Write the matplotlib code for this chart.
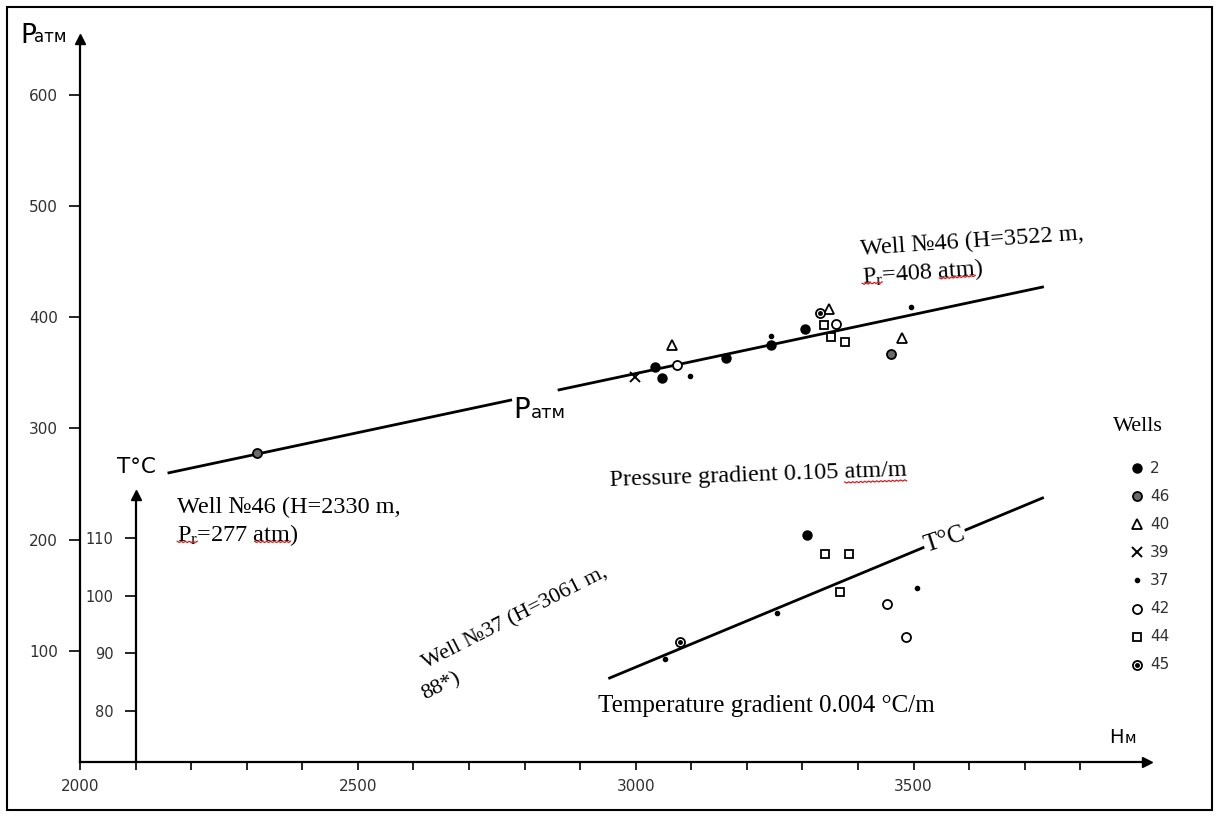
import numpy as np
import matplotlib
matplotlib.use('Agg')
import matplotlib.pyplot as plt
from matplotlib import font_manager
from matplotlib.patches import Rectangle
from matplotlib.lines import Line2D

# fonts: narrow sans for the scanned axis lettering, Times-like serif for the notes
names = {f.name for f in font_manager.fontManager.ttflist}
SANS = 'Liberation Sans Narrow' if 'Liberation Sans Narrow' in names else 'DejaVu Sans'
WIDE = 'DejaVu Sans'
SERIF = ['Liberation Serif', 'DejaVu Serif']
plt.rcParams['mathtext.fontset'] = 'custom'
plt.rcParams['mathtext.rm'] = 'Liberation Serif'
plt.rcParams['mathtext.it'] = 'Liberation Serif:italic'

# ---- data ----
wells = ['2', '46', '40', '39', '37', '42', '44', '45']

# reservoir pressure vs depth
pressure_well = ['39', '2', '2', '40', '42', '37', '2', '2', '37', '2',
                 '45', '40', '44', '42', '44', '44', '46', '40', '37', '46']
pressure_depth = [2999, 3035, 3048, 3066, 3075, 3097, 3162, 3244, 3244, 3304,
                  3331, 3347, 3338, 3360, 3352, 3376, 3459, 3480, 3496, 2319]
pressure_atm = [346, 355, 345, 375, 357, 347, 363, 375, 383, 389,
                404, 407, 393, 394, 382, 378, 367, 381, 409, 278]

# temperature vs depth
temp_well = ['2', '44', '44', '44', '37', '42', '42', '45', '37', '37']
temp_depth = [3309, 3340, 3383, 3367, 3507, 3452, 3487, 3080, 3052, 3255]
temp_c = [110.6, 107.3, 107.3, 100.7, 101.4, 98.6, 92.9, 92.0, 89.0, 97.0]

# trend lines
p_trend_depth = [2160, 3732]
p_trend_atm = [260, 427]
t_trend_depth = [2953, 3732]
t_trend_c = [85.7, 117.0]

# marker style per well (list = layered markers)
styles = {
    '2':  [dict(marker='o', ms=6.5, mfc='k', mec='k')],
    '46': [dict(marker='o', ms=6.5, mfc='#6a6a6a', mec='k', mew=1.3)],
    '40': [dict(marker='^', ms=7.5, mfc='white', mec='k', mew=1.3)],
    '39': [dict(marker='x', ms=7, mec='k', mew=1.4)],
    '37': [dict(marker='o', ms=3, mfc='k', mec='k')],
    '42': [dict(marker='o', ms=6.5, mfc='white', mec='k', mew=1.3)],
    '44': [dict(marker='s', ms=6, mfc='white', mec='k', mew=1.3)],
    '45': [dict(marker='o', ms=6.5, mfc='white', mec='k', mew=1.3),
           dict(marker='o', ms=2.5, mfc='k', mec='k')],
}

W, H = 1217, 816
fig = plt.figure(figsize=(W / 100, H / 100), dpi=100)
ax = fig.add_axes([80 / W, 1 - 762 / H, 1067 / W, (762 - 39) / H])
ax.set_xlim(2000, 3920)
ax.set_ylim(0, 650)

for s in ['top', 'right']:
    ax.spines[s].set_visible(False)
for s in ['left', 'bottom']:
    ax.spines[s].set_linewidth(1.6)

ax.set_xticks([2000, 2500, 3000, 3500])
ax.set_xticks(np.arange(2000, 3900, 100), minor=True)
ax.set_yticks([100, 200, 300, 400, 500, 600])
ax.tick_params(axis='x', which='both', direction='out', length=6, width=1.2, pad=6,
               labelsize=11, labelcolor='#303030')
ax.tick_params(axis='y', direction='out', length=8, width=1.2, pad=8,
               labelsize=11, labelcolor='#303030')
for lab in ax.get_xticklabels() + ax.get_yticklabels():
    lab.set_family(WIDE)

# axis arrows
ax.plot(0, 1, '^k', ms=7, transform=ax.transAxes, clip_on=False)
ax.plot(1, 0, '>k', ms=7, transform=ax.transAxes, clip_on=False)

# temperature axis at H = 2100 m
ax2 = ax.twinx()
ax2.set_ylim(71.1, 196.8)
for s in ['top', 'right', 'bottom']:
    ax2.spines[s].set_visible(False)
ax2.spines['left'].set_visible(True)
ax2.spines['left'].set_position(('data', 2100))
ax2.spines['left'].set_bounds(71.1, 117.5)
ax2.spines['left'].set_linewidth(1.6)
ax2.yaxis.set_ticks_position('left')
ax2.set_yticks([80, 90, 100, 110])
ax2.tick_params(axis='y', direction='out', length=8, width=1.2, pad=8,
                labelsize=10.5, labelcolor='#303030')
for lab in ax2.get_yticklabels():
    lab.set_family(SANS)
ax2.plot(2100, 117.5, '^k', ms=7, clip_on=False)

# pressure trend line, broken where the "Pатм" label sits
for lo, hi in [(p_trend_depth[0], 2775), (2862, p_trend_depth[1])]:
    xs = np.array([lo, hi])
    ax.plot(xs, np.interp(xs, p_trend_depth, p_trend_atm), color='k', lw=2, zorder=2)
ax2.plot(t_trend_depth, t_trend_c, color='k', lw=2, zorder=2)

# points
pw = np.array(pressure_well)
tw = np.array(temp_well)
for w in wells:
    m = pw == w
    for st in styles[w]:
        ax.plot(np.array(pressure_depth)[m], np.array(pressure_atm)[m], ls='none',
                zorder=3, **st)
    m = tw == w
    for st in styles[w]:
        ax2.plot(np.array(temp_depth)[m], np.array(temp_c)[m], ls='none',
                 zorder=3, **st)

# legend "Wells"
ax.text(3903, 298, 'Wells', family=SERIF, fontsize=16, ha='center', va='baseline')
for i, w in enumerate(wells):
    y = 264 - 25.2 * i
    for st in styles[w]:
        ax.plot(3902, y, ls='none', clip_on=False, **st)
    ax.text(3925, y, w, family=WIDE, fontsize=11, color='#303030',
            ha='left', va='center')

# labels on the lines
ax.text(2810, 309, 'P', family=SANS, fontsize=20, ha='right', va='baseline')
ax.text(2812, 309, 'атм', family=SANS, fontsize=13, ha='left', va='baseline')
ax2.text(3556, 109.8, 'T°C', family=SERIF, fontsize=18, ha='center', va='center',
         rotation=18, rotation_mode='anchor',
         bbox=dict(facecolor='white', edgecolor='none', pad=0.5), zorder=2.5)

# axis titles
fig.text(20 / W, 1 - 43 / H, 'P', family=SANS, fontsize=19, ha='left', va='baseline')
fig.text(34 / W, 1 - 42 / H, 'атм', family=SANS, fontsize=12, ha='left', va='baseline')
fig.text(117 / W, 1 - 473 / H, 'T°C', family=SANS, fontsize=15.5, ha='left', va='baseline')
fig.text(1109 / W, 1 - 743 / H, 'H', family=SANS, fontsize=14, ha='left', va='baseline')
fig.text(1125 / W, 1 - 743 / H, 'м', family=SANS, fontsize=11, ha='left', va='baseline')

# notes (anchor = left end of the last line's baseline)
note = dict(family=SERIF, ha='left', va='baseline', rotation_mode='anchor')
notes = [
    ((3407, 434), 'Well №46 (H=3522 m,\nP$_\\mathrm{r}$=408 atm)', 4, 17.5),
    ((2175, 202), 'Well №46 (H=2330 m,\nP$_\\mathrm{r}$=277 atm)', 0, 17.5),
    ((2953, 248), 'Pressure gradient 0.105 atm/m', 2, 17.5),
    ((2622, 84), 'Well №37 (H=3061 m,', 27, 16),
    ((2621, 56), '88*)', 27, 16),
    ((2933, 45), 'Temperature gradient 0.004 °C/m', 0, 18),
]
for (hx, py), txt, rot, size in notes:
    ax.text(hx, py, txt, rotation=rot, fontsize=size, **note)

# red spell-check underlines of the scanned document
renderer = fig.canvas.get_renderer()


def text_width(s):
    t = fig.text(0, 0, s, family=SERIF, fontsize=17.5)
    w = t.get_window_extent(renderer).width
    t.remove()
    return w


def squiggle(anchor, rot, upto, word):
    x1 = text_width(upto)
    x0 = x1 - text_width(word)
    ox, oy = ax.transData.transform(anchor)
    th = np.deg2rad(rot)
    s = np.arange(x0, x1 + 0.1, 2.0)
    d = 4 + 1.2 * (np.arange(len(s)) % 2)
    px = ox + s * np.cos(th) + d * np.sin(th)
    py = oy + s * np.sin(th) - d * np.cos(th)
    fig.add_artist(Line2D(px, py, transform=None, color='#e01818', lw=0.9))


squiggle((3407, 434), 4, 'P$_\\mathrm{r}$', 'P$_\\mathrm{r}$')
squiggle((3407, 434), 4, 'P$_\\mathrm{r}$=408 atm', 'atm')
squiggle((2175, 202), 0, 'P$_\\mathrm{r}$', 'P$_\\mathrm{r}$')
squiggle((2175, 202), 0, 'P$_\\mathrm{r}$=277 atm', 'atm')
squiggle((2953, 248), 2, 'Pressure gradient 0.105 atm/m', 'atm/m')

# frame around the whole picture
fig.add_artist(Rectangle((7 / W, 6 / H), 1205 / W, 803 / H, transform=fig.transFigure,
                         fill=False, edgecolor='k', lw=1.5))

fig.savefig('out.png', dpi=100)
